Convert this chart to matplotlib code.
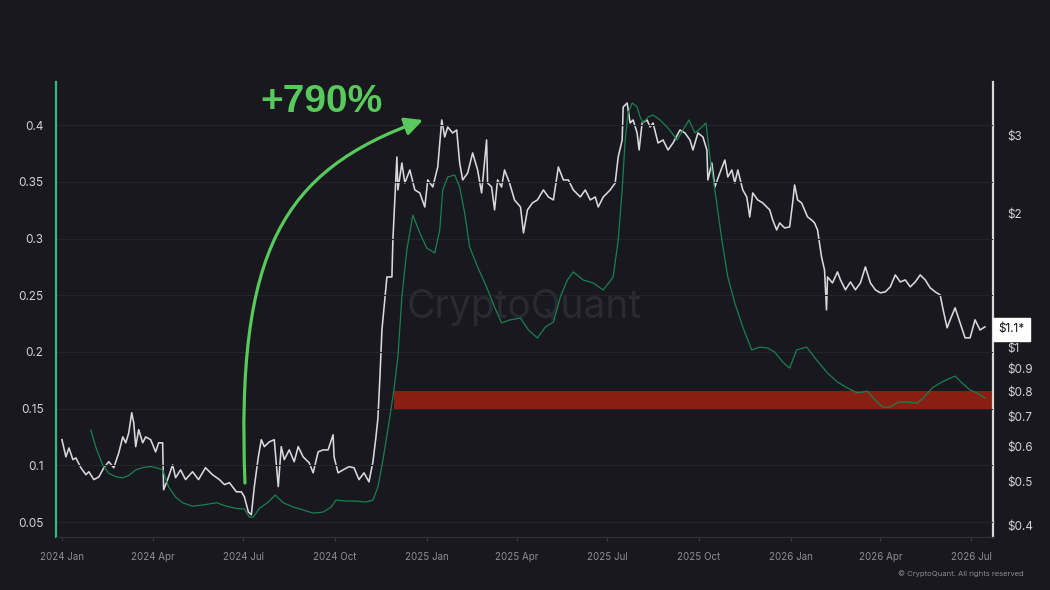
import matplotlib
matplotlib.use("Agg")
import matplotlib.pyplot as plt
import matplotlib.transforms as mtransforms
from matplotlib.ticker import FixedLocator, NullLocator
from matplotlib.patches import FancyArrowPatch
from matplotlib.path import Path
import pandas as pd

# ---------------- data ----------------
start_date = "2024-01-01"

# price (white line, right log axis): day offsets from start_date, USD
price_days = [0, 4, 7, 11, 14, 19, 24, 27, 32, 37, 42, 47, 52, 57, 61, 64, 67, 70, 72, 74,
              77, 81, 84, 89, 94, 97, 101, 102, 106, 111, 114, 119, 124, 131, 137, 144, 151, 158, 163, 168,
              175, 180, 183, 187, 190, 193, 197, 200, 203, 208, 213, 217, 220, 223, 228, 233, 237, 242, 248, 252,
              257, 262, 267, 272, 273, 277, 282, 288, 293, 298, 303, 308, 312, 315, 317, 319, 321, 326, 331, 332,
              336, 337, 341, 344, 349, 354, 359, 364, 367, 372, 377, 381, 384, 387, 392, 396, 399, 402, 407, 412,
              417, 421, 426, 427, 431, 434, 437, 441, 444, 449, 454, 460, 463, 467, 472, 477, 483, 488, 493, 498,
              503, 508, 513, 520, 525, 530, 535, 538, 543, 550, 555, 558, 562, 563, 567, 570, 573, 577, 579, 582,
              587, 590, 593, 598, 603, 608, 613, 620, 625, 630, 633, 638, 643, 647, 648, 652, 655, 660, 665, 668,
              672, 675, 678, 683, 687, 690, 693, 698, 703, 707, 710, 713, 717, 720, 725, 730, 733, 735, 738, 742,
              745, 748, 752, 755, 758, 762, 765, 767, 768, 773, 778, 781, 786, 791, 796, 801, 806, 811, 816, 821,
              826, 831, 836, 841, 846, 851, 856, 861, 866, 871, 876, 881, 884, 888, 891, 896, 901, 906, 911, 916,
              921, 926]
price_vals = [0.622, 0.569, 0.596, 0.561, 0.566, 0.538, 0.519, 0.527, 0.506, 0.513, 0.538, 0.555, 0.538, 0.581, 0.631, 0.612, 0.644, 0.715, 0.679, 0.600,
              0.655, 0.612, 0.631, 0.622, 0.584, 0.612, 0.612, 0.480, 0.506, 0.546, 0.511, 0.532, 0.506, 0.527, 0.506, 0.538, 0.519, 0.506, 0.493, 0.498,
              0.475, 0.475, 0.463, 0.428, 0.422, 0.488, 0.569, 0.622, 0.600, 0.615, 0.622, 0.488, 0.600, 0.561, 0.590, 0.555, 0.600, 0.569, 0.552, 0.524,
              0.584, 0.590, 0.590, 0.638, 0.569, 0.524, 0.532, 0.541, 0.538, 0.506, 0.524, 0.500, 0.555, 0.631, 0.696, 0.861, 1.097, 1.443, 1.443, 1.747,
              2.683, 2.263, 2.601, 2.346, 2.509, 2.263, 2.228, 2.072, 2.383, 2.298, 2.548, 3.249, 2.976, 3.133, 3.038, 3.085, 2.601, 2.383, 2.470, 2.740,
              2.509, 2.228, 2.930, 2.346, 2.298, 2.041, 2.383, 2.298, 2.509, 2.346, 2.149, 2.072, 1.812, 2.041, 2.116, 2.149, 2.263, 2.182, 2.149, 2.548,
              2.383, 2.383, 2.263, 2.182, 2.263, 2.149, 2.182, 2.072, 2.182, 2.263, 2.346, 2.683, 2.930, 3.474, 3.547, 3.199, 3.249, 3.038, 2.782, 3.199,
              3.249, 3.133, 3.199, 2.885, 2.930, 2.782, 2.885, 3.085, 3.038, 2.930, 2.782, 3.038, 2.976, 2.782, 2.383, 2.601, 2.298, 2.470, 2.642, 2.420,
              2.509, 2.346, 2.509, 2.263, 2.182, 1.968, 2.228, 2.149, 2.116, 2.072, 2.041, 1.938, 1.840, 1.908, 1.859, 1.869, 2.116, 2.322, 2.149, 2.116,
              2.041, 1.968, 1.938, 1.908, 1.840, 1.600, 1.496, 1.217, 1.443, 1.399, 1.481, 1.421, 1.350, 1.406, 1.350, 1.399, 1.520, 1.399, 1.350, 1.329,
              1.336, 1.371, 1.458, 1.406, 1.421, 1.371, 1.406, 1.458, 1.421, 1.364, 1.336, 1.315, 1.217, 1.109, 1.156, 1.230, 1.138, 1.053, 1.053, 1.156,
              1.097, 1.115]

# metric (green line, left axis)
metric_days = [29, 34, 41, 47, 54, 61, 67, 74, 81, 89, 94, 101, 107, 114, 121, 131, 141, 155, 165, 175,
               183, 188, 192, 198, 207, 214, 222, 232, 242, 252, 262, 270, 275, 285, 295, 305, 312, 317, 322, 328,
               333, 337, 341, 346, 352, 359, 366, 374, 379, 382, 387, 394, 399, 404, 409, 417, 426, 434, 441, 449,
               460, 468, 477, 485, 493, 500, 507, 513, 523, 533, 543, 553, 558, 562, 565, 568, 572, 577, 580, 583,
               588, 593, 600, 607, 612, 617, 623, 629, 635, 642, 646, 650, 655, 662, 668, 675, 683, 692, 700, 708,
               715, 723, 730, 737, 747, 757, 768, 778, 788, 798, 808, 814, 823, 831, 839, 848, 858, 864, 873, 881,
               889, 896, 903, 911, 918, 926]
metric_vals = [0.131, 0.116, 0.100, 0.093, 0.090, 0.089, 0.091, 0.096, 0.098, 0.099, 0.098, 0.096, 0.081, 0.072, 0.067, 0.064, 0.065, 0.067, 0.064, 0.062,
               0.0615, 0.0544, 0.0544, 0.062, 0.0676, 0.0738, 0.067, 0.0632, 0.0606, 0.0579, 0.0588, 0.0632, 0.0694, 0.0685, 0.0685, 0.0676, 0.0694, 0.081, 0.1047, 0.1373,
               0.1664, 0.1955, 0.2484, 0.2899, 0.3207, 0.3049, 0.2916, 0.2872, 0.3075, 0.3428, 0.3542, 0.356, 0.3454, 0.3225, 0.2925, 0.2749, 0.2572, 0.2396, 0.2255, 0.2281,
               0.2299, 0.2193, 0.2123, 0.222, 0.2264, 0.2484, 0.2634, 0.2705, 0.2634, 0.2608, 0.2546, 0.266, 0.2987, 0.3428, 0.3869, 0.4107, 0.4195, 0.416, 0.4071, 0.4019,
               0.4071, 0.4089, 0.4045, 0.3983, 0.393, 0.3869, 0.3957, 0.4045, 0.393, 0.3983, 0.4019, 0.3719, 0.3428, 0.2987, 0.266, 0.2431, 0.222, 0.2017, 0.2043, 0.2034,
               0.1999, 0.1911, 0.1858, 0.2017, 0.2043, 0.1929, 0.1814, 0.1735, 0.1682, 0.1638, 0.1655, 0.1593, 0.1514, 0.1514, 0.1558, 0.1558, 0.1549, 0.1593, 0.1682, 0.1726,
               0.1761, 0.1787, 0.1726, 0.1664, 0.1638, 0.1593]

# support band (price, right axis)
band_start_day = 333
band_low, band_high = 0.726, 0.80

# annotation text
gain_label = "+790%"
last_price_label = "$1.1*"
last_price = 1.1

# axes
left_ticks = [0.05, 0.1, 0.15, 0.2, 0.25, 0.3, 0.35, 0.4]
left_labels = ["0.05", "0.1", "0.15", "0.2", "0.25", "0.3", "0.35", "0.4"]
right_ticks = [0.4, 0.5, 0.6, 0.7, 0.8, 0.9, 1, 2, 3]
right_labels = ["$0.4", "$0.5", "$0.6", "$0.7", "$0.8", "$0.9", "$1", "$2", "$3"]
x_tick_dates = ["2024-01-01", "2024-04-01", "2024-07-01", "2024-10-01", "2025-01-01", "2025-04-01",
                "2025-07-01", "2025-10-01", "2026-01-01", "2026-04-01", "2026-07-01"]
x_tick_labels = ["2024 Jan", "2024 Apr", "2024 Jul", "2024 Oct", "2025 Jan", "2025 Apr",
                 "2025 Jul", "2025 Oct", "2026 Jan", "2026 Apr", "2026 Jul"]
x_min_day, x_max_day = -6, 934

# ---------------- plotting ----------------
BG = "#18181e"
start = pd.Timestamp(start_date)
to_date = lambda d: start + pd.Timedelta(days=d)
price_dates = [to_date(d) for d in price_days]
metric_dates = [to_date(d) for d in metric_days]

plt.rcParams["font.family"] = ["Inter", "DejaVu Sans"]

fig = plt.figure(figsize=(10.5, 5.9), dpi=100, facecolor=BG)
ax2 = fig.add_axes([0.0533, 0.0898, 0.8924, 0.7712])  # price axis (right)
ax = ax2.twinx()                                       # metric axis (left)

ax2.yaxis.tick_right()
ax2.yaxis.set_label_position("right")
ax.yaxis.tick_left()
ax.yaxis.set_label_position("left")

ax2.set_facecolor(BG)
ax.patch.set_visible(False)

# price axis
ax2.set_yscale("log")
ax2.set_ylim(0.376, 3.954)
ax2.yaxis.set_major_locator(FixedLocator(right_ticks))
ax2.yaxis.set_minor_locator(NullLocator())
ax2.set_yticklabels(right_labels)

ax2.fill_between([to_date(band_start_day), to_date(x_max_day)], band_low, band_high,
                 color="#891e13", lw=0, zorder=1)
ax2.plot(price_dates, price_vals, color="#d9d9dc", lw=1.15, zorder=3)

# metric axis
ax.set_ylim(0.0368, 0.438)
ax.yaxis.set_major_locator(FixedLocator(left_ticks))
ax.set_yticklabels(left_labels)
ax.plot(metric_dates, metric_vals, color="#1b8052", lw=0.9, zorder=3)
ax2.yaxis.grid(False)
ax.grid(axis="y", color="#24242b", lw=0.8, zorder=0)
ax.set_axisbelow(True)

for a in (ax, ax2):
    a.set_xlim(to_date(x_min_day), to_date(x_max_day))
    a.spines["top"].set_visible(False)
    a.spines["bottom"].set_color("#2e2e35")

ax.spines["left"].set_color("#35b87a")
ax.spines["left"].set_linewidth(1.6)
ax.spines["right"].set_visible(False)
ax2.spines["left"].set_visible(False)
ax2.spines["right"].set_color("#d8d8d8")
ax2.spines["right"].set_linewidth(1.6)

ax2.set_xticks([pd.Timestamp(d) for d in x_tick_dates])
ax2.set_xticklabels(x_tick_labels)
ax2.tick_params(axis="x", colors="#3a3a42", labelcolor="#8e8e96", labelsize=7, length=3, pad=8)
ax.tick_params(axis="x", bottom=False, labelbottom=False)
ax.tick_params(axis="y", length=0, labelcolor="#d2d2d7", labelsize=8.5, pad=9)
ax2.tick_params(axis="y", which="both", length=0, labelcolor="#d2d2d7", labelsize=8.5, pad=10)

# watermark
ax.text(0.5, 0.505, "CryptoQuant", transform=ax.transAxes, ha="center", va="center",
        fontsize=28, color="#2a2a31", zorder=0.5)

# curved arrow (cubic bezier in axes-fraction space) and gain label
arrow_path = Path([(0.2017, 0.1187), (0.1921, 0.6308), (0.2412, 0.8044), (0.3917, 0.9165)],
                  [Path.MOVETO, Path.CURVE4, Path.CURVE4, Path.CURVE4])
arrow = FancyArrowPatch(path=arrow_path, arrowstyle="-|>,head_length=0.9,head_width=0.45",
                        mutation_scale=12, color="#58c95c", lw=2.3, transform=ax.transAxes,
                        zorder=6, clip_on=False)
ax.add_patch(arrow)
ax.text(0.283, 0.955, gain_label, transform=ax.transAxes, ha="center", va="center",
        fontsize=28, fontweight="bold", color="#58c95c", family=["Liberation Sans", "DejaVu Sans"], zorder=6)

# last price label
trans = mtransforms.blended_transform_factory(ax2.transAxes, ax2.transData)
ax2.text(1.006, last_price, last_price_label, transform=trans, ha="left", va="center",
         fontsize=8.5, color="#111111", zorder=7, clip_on=False,
         bbox=dict(boxstyle="square,pad=0.45", fc="white", ec="white"))

# copyright
fig.text(0.975, 0.028, "© CryptoQuant. All rights reserved", ha="right", va="center",
         fontsize=5.5, color="#8a8a90")

ax.set_zorder(ax2.get_zorder() + 1)

fig.savefig("out.png", dpi=100, facecolor=BG)
